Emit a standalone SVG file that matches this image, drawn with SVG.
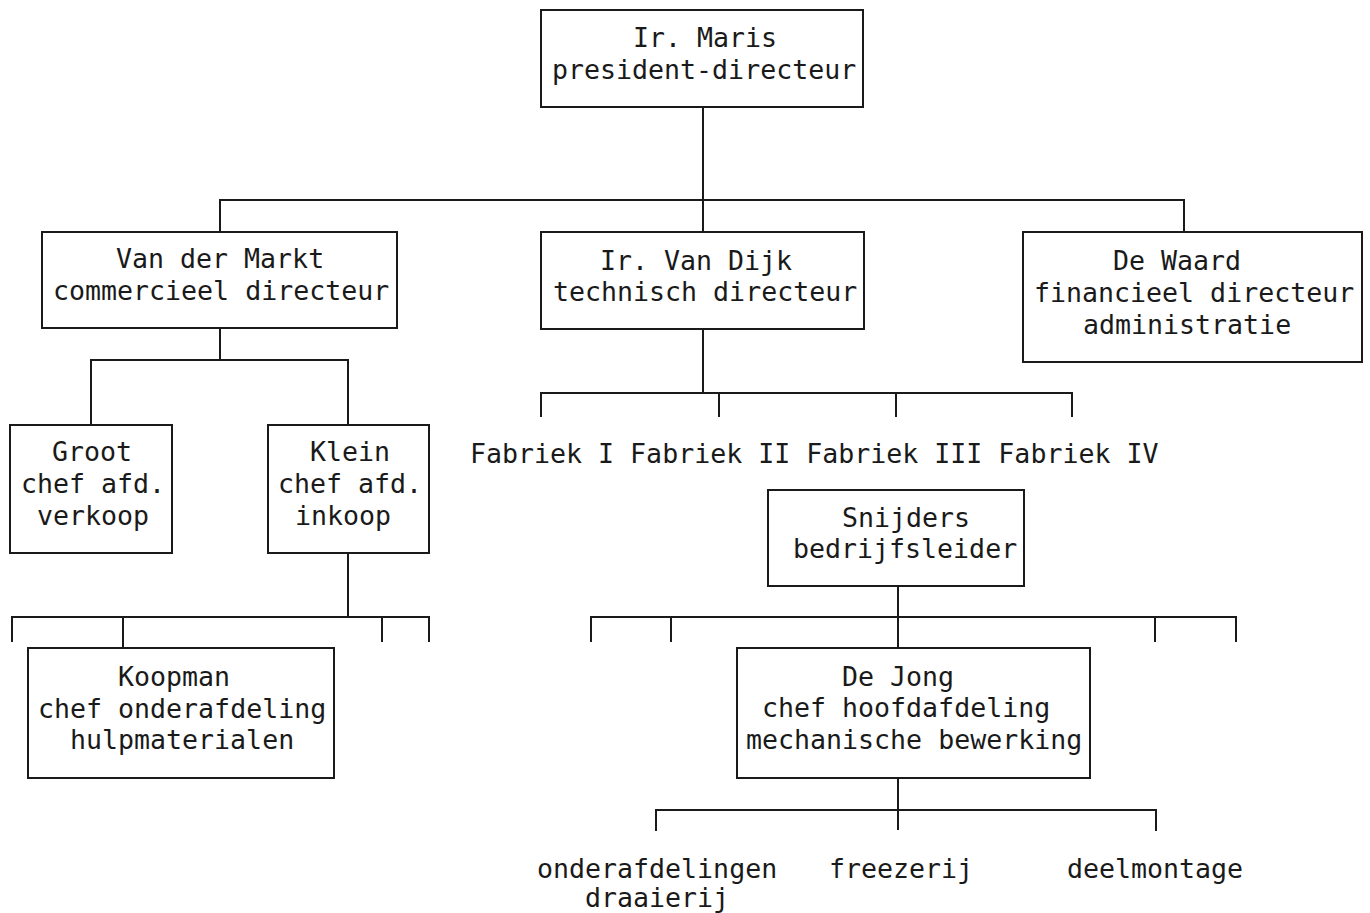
<svg xmlns="http://www.w3.org/2000/svg" width="1370" height="913" viewBox="0 0 1370 913">
<style>
.bg{fill:#ffffff}
.box{fill:none;stroke:#1a1a1a;stroke-width:2}
.ln{fill:none;stroke:#1a1a1a;stroke-width:2}
text{font-family:"DejaVu Sans Mono","Liberation Mono",monospace;font-size:26.6px;fill:#1a1a1a}
</style>
<rect class="bg" x="0" y="0" width="1370" height="913"/>
<g id="connectors">
<path class="ln" d="M703,107 V232 M220,232 V200 H1184 V232"/>
<path class="ln" d="M220,328 V360 M91,425 V360 H348 V425"/>
<path class="ln" d="M348,553 V617 M12,642 V617 H429 V642 M123,617 V648 M382,617 V642"/>
<path class="ln" d="M703,329 V393 M541,417 V393 H1072 V417 M719,393 V417 M896,393 V417"/>
<path class="ln" d="M898,586 V648 M591,642 V617 H1236 V642 M671,617 V642 M1155,617 V642"/>
<path class="ln" d="M898,778 V830 M656,831 V810 H1156 V831"/>
</g>
<g id="maris">
<rect class="box" x="541" y="10" width="322" height="97"/>
<text x="633" y="47">Ir. Maris</text>
<text x="552" y="79">president-directeur</text>
</g>
<g id="vandermarkt">
<rect class="box" x="42" y="232" width="355" height="96"/>
<text x="116" y="268">Van der Markt</text>
<text x="53" y="300">commercieel directeur</text>
</g>
<g id="vandijk">
<rect class="box" x="541" y="232" width="323" height="97"/>
<text x="600" y="270">Ir. Van Dijk</text>
<text x="553" y="301">technisch directeur</text>
</g>
<g id="dewaard">
<rect class="box" x="1023" y="232" width="339" height="130"/>
<text x="1113" y="270">De Waard</text>
<text x="1034" y="302">financieel directeur</text>
<text x="1083" y="334">administratie</text>
</g>
<g id="groot">
<rect class="box" x="10" y="425" width="162" height="128"/>
<text x="52" y="461">Groot</text>
<text x="21" y="493">chef afd.</text>
<text x="37" y="525">verkoop</text>
</g>
<g id="klein">
<rect class="box" x="268" y="425" width="161" height="128"/>
<text x="310" y="461">Klein</text>
<text x="278" y="493">chef afd.</text>
<text x="295" y="525">inkoop</text>
</g>
<g id="fabrieken">
<text x="470" y="463">Fabriek I Fabriek II Fabriek III Fabriek IV</text>
</g>
<g id="snijders">
<rect class="box" x="768" y="490" width="256" height="96"/>
<text x="842" y="527">Snijders</text>
<text x="793" y="558">bedrijfsleider</text>
</g>
<g id="koopman">
<rect class="box" x="28" y="648" width="306" height="130"/>
<text x="118" y="686">Koopman</text>
<text x="38" y="718">chef onderafdeling</text>
<text x="70" y="749">hulpmaterialen</text>
</g>
<g id="dejong">
<rect class="box" x="737" y="648" width="353" height="130"/>
<text x="842" y="686">De Jong</text>
<text x="762" y="717">chef hoofdafdeling</text>
<text x="746" y="749">mechanische bewerking</text>
</g>
<g id="draaierij">
<text x="537" y="878">onderafdelingen</text>
<text x="585" y="907">draaierij</text>
</g>
<g id="freezerij">
<text x="829" y="878">freezerij</text>
</g>
<g id="deelmontage">
<text x="1067" y="878">deelmontage</text>
</g>
</svg>
